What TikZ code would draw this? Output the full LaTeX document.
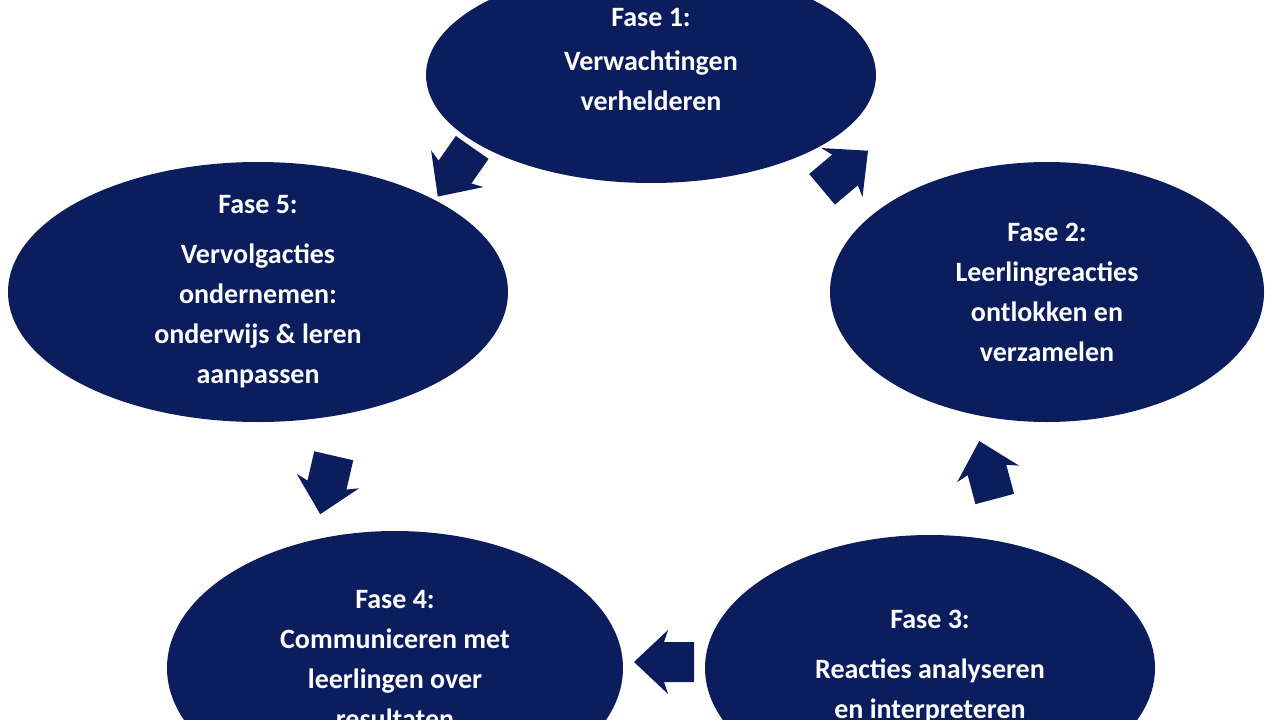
\documentclass[tikz,border=0pt]{standalone}
\usepackage{fontspec}
\setmainfont{Carlito}
\definecolor{navy}{HTML}{0C1D5E}
\begin{document}
\begin{tikzpicture}[x=1pt,y=-1pt,
  ph/.style={text=white,font=\fontsize{28}{40}\selectfont\bfseries,align=center,inner sep=0},
  barrow/.pic={\fill[navy] (-30,-20) -- (0,-20) -- (-4,-32) -- (30,0) -- (-4,32) -- (0,20) -- (-30,20) -- cycle;}]
\path[use as bounding box] (0,0) rectangle (1280,720);
\clip (0,0) rectangle (1280,720);
\fill[navy] (651,75) ellipse [x radius=225,y radius=108];
\node[ph] (p1) at (651,60) {Fase 1:\\[4pt]Verwachtingen\\verhelderen};
\fill[navy] (1047,292) ellipse [x radius=217,y radius=130];
\node[ph] (p2) at (1047,292) {Fase 2:\\Leerlingreacties\\ontlokken en\\verzamelen};
\fill[navy] (930,668) ellipse [x radius=225,y radius=133];
\node[ph] (p3) at (930,667) {Fase 3:\\[10pt]Reacties analyseren\\en interpreteren};
\fill[navy] (395,668) ellipse [x radius=228,y radius=137];
\node[ph] (p4) at (395,660) {Fase 4:\\Communiceren met\\leerlingen over\\resultaten};
\fill[navy] (258,292) ellipse [x radius=250,y radius=130];
\node[ph] (p5) at (258,292) {Fase 5:\\[10pt]Vervolgacties\\ondernemen:\\onderwijs \& leren\\aanpassen};
\pic[rotate=40] at (845,170) {barrow};
\pic[rotate=105] at (987,470) {barrow};
\pic[rotate=180] at (664,662) {barrow};
\pic[rotate=-103] at (327,485) {barrow};
\pic[rotate=-125] at (455,172) {barrow};
\end{tikzpicture}
\end{document}
